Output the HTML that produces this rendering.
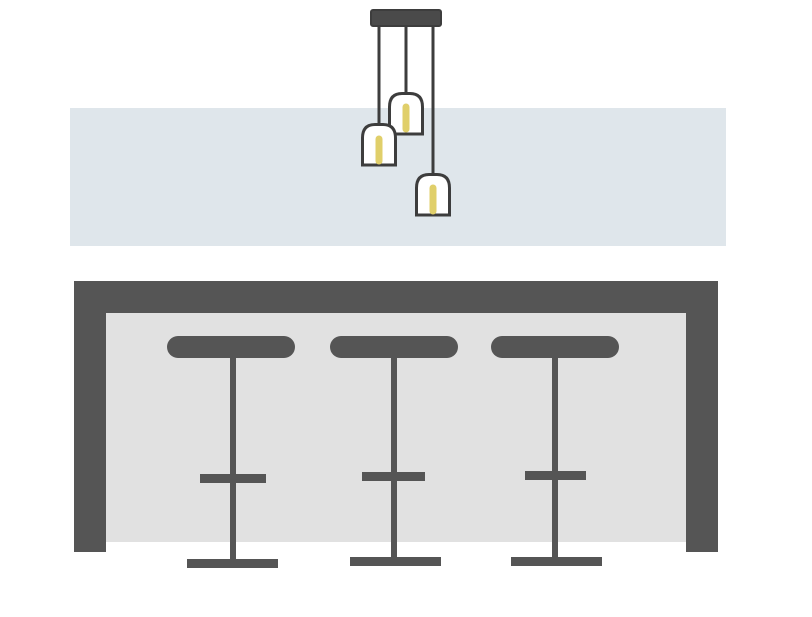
<!DOCTYPE html>
<html><head><style>html,body{margin:0;padding:0;background:#fff;}</style></head>
<body>
<svg width="812" height="612" viewBox="0 0 812 612" xmlns="http://www.w3.org/2000/svg">
<rect x="70" y="108" width="656" height="138" fill="#dfe6eb"/>
<rect x="106" y="312" width="580" height="230" fill="#e1e1e1"/>
<rect x="74" y="281" width="644" height="32" fill="#555"/>
<rect x="74" y="281" width="32" height="271" fill="#555"/>
<rect x="686" y="281" width="32" height="271" fill="#555"/>
<g fill="#555">
<rect x="167" y="336" width="128" height="22" rx="11"/>
<rect x="230" y="356" width="6" height="206"/>
<rect x="200" y="474" width="66" height="9"/>
<rect x="187" y="559" width="91" height="9"/>
<rect x="330" y="336" width="128" height="22" rx="11"/>
<rect x="391" y="356" width="6" height="204"/>
<rect x="362" y="472" width="63" height="9"/>
<rect x="350" y="557" width="91" height="9"/>
<rect x="491" y="336" width="128" height="22" rx="11"/>
<rect x="552" y="356" width="6" height="204"/>
<rect x="525" y="471" width="61" height="9"/>
<rect x="511" y="557" width="91" height="9"/>
</g>
<g stroke="#3d3d3d" stroke-width="3" fill="none">
<line x1="379" y1="26" x2="379" y2="124"/>
<line x1="406" y1="26" x2="406" y2="93"/>
<line x1="433" y1="26" x2="433" y2="174"/>
</g>
<rect x="371" y="10" width="70" height="16" rx="2" fill="#4a4a4a" stroke="#3d3d3d" stroke-width="2"/>
<g stroke="#3d3d3d" stroke-width="3" fill="#fff">
<path d="M389.5 134 V107 Q389.5 93.5 402 93.5 H410 Q422.5 93.5 422.5 107 V134 Z"/>
<path d="M362.5 165 V138 Q362.5 124.5 375 124.5 H383 Q395.5 124.5 395.5 138 V165 Z"/>
<path d="M416.5 215 V188 Q416.5 174.5 429 174.5 H437 Q449.5 174.5 449.5 188 V215 Z"/>
</g>
<g stroke="#e0cf6a" stroke-width="7" stroke-linecap="round">
<line x1="406" y1="107" x2="406" y2="129"/>
<line x1="379" y1="139" x2="379" y2="161"/>
<line x1="433" y1="188" x2="433" y2="211"/>
</g>
</svg>
</body></html>
